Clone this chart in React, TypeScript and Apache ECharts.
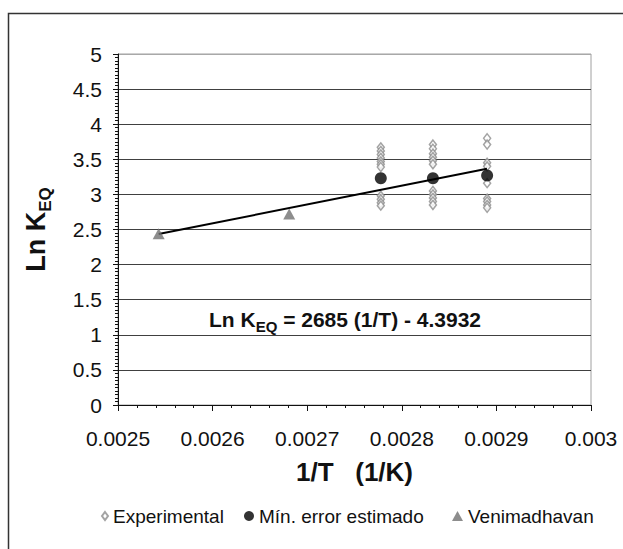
import React, { useEffect, useRef } from "react";
import * as echarts from "echarts";

// ---- data ----
const xTicksMin = 0.0025;
const xTicksMax = 0.003;
const xInterval = 0.0001;
const yMin = 0;
const yMax = 5;
const yInterval = 0.5;

const tempInv = [0.0027778, 0.0028329, 0.0028902];
const expCluster1 = [3.67, 3.62, 3.57, 3.52, 3.47, 3.43, 3.39, 2.98, 2.93, 2.88, 2.84];
const expCluster2 = [3.71, 3.65, 3.58, 3.53, 3.48, 3.43, 3.05, 3.0, 2.95, 2.9, 2.85];
const expCluster3 = [3.8, 3.71, 3.45, 3.4, 3.16, 2.94, 2.9, 2.85, 2.81];
const minErrorValues = [3.23, 3.23, 3.27];
const venimadhavanX = [0.002543, 0.002681];
const venimadhavanY = [2.44, 2.72];
const trendSlope = [2685];
const trendIntercept = [-4.3932];
const trendX = [0.002543, 0.00289];
const legendNames = ["Experimental", "Mín. error estimado", "Venimadhavan"];

const FONT = "'Liberation Sans', Arial, sans-serif";

export default function App() {
  const ref = useRef<HTMLDivElement>(null);
  useEffect(() => {
    if (!ref.current) return;
    const chart = echarts.init(ref.current, null, { renderer: "svg" });

    const expData: number[][] = [];
    [expCluster1, expCluster2, expCluster3].forEach((c, i) =>
      c.forEach((v) => expData.push([tempInv[i], v]))
    );
    const minData = tempInv.map((x, i) => [x, minErrorValues[i]]);
    const venData = venimadhavanX.map((x, i) => [x, venimadhavanY[i]]);
    const trendData = trendX.map((x) => [x, trendSlope[0] * x + trendIntercept[0]]);

    const splitColors: string[] = [];
    for (let i = 0; i < 10; i++) splitColors.push("#404040");
    splitColors.push("#a8a8a8");

    const legendText = { fontFamily: FONT, fontSize: 19, color: "#111", lineHeight: 20 };

    chart.setOption({
      animation: false,
      backgroundColor: "#fff",
      textStyle: { fontFamily: FONT },
      title: {
        text: "{a|Ln K}{b|EQ}{a| = 2685 (1/T) - 4.3932}",
        left: 209,
        top: 304,
        padding: 0,
        textStyle: {
          rich: {
            a: { fontFamily: FONT, fontSize: 21, fontWeight: "bold", color: "#111", lineHeight: 30 },
            b: { fontFamily: FONT, fontSize: 15, fontWeight: "bold", color: "#111", lineHeight: 15, verticalAlign: "bottom" },
          },
        },
      },
      graphic: [
        {
          type: "rect",
          silent: true,
          z: -10,
          shape: { x: 8.5, y: 13.5, width: 700, height: 700 },
          style: { fill: "none", stroke: "#333", lineWidth: 1.5 },
        },
      ],
      legend: [
        {
          data: [legendNames[0]],
          left: 101,
          top: 506,
          itemWidth: 6,
          itemHeight: 8,
          textStyle: legendText,
          padding: 0,
        },
        {
          data: [legendNames[1]],
          left: 244,
          top: 506,
          itemWidth: 10,
          itemHeight: 10,
          textStyle: legendText,
          padding: 0,
        },
        {
          data: [legendNames[2]],
          left: 452,
          top: 506,
          itemWidth: 11,
          itemHeight: 10,
          textStyle: legendText,
          padding: 0,
        },
      ],
      grid: {
        left: 118,
        right: 32,
        top: 54,
        bottom: 144,
        show: true,
        borderColor: "#a0a0a0",
        borderWidth: 1,
        backgroundColor: "#fff",
      },
      xAxis: {
        type: "value",
        min: xTicksMin,
        max: xTicksMax,
        interval: xInterval,
        name: "1/T   (1/K)",
        nameLocation: "middle",
        nameGap: 54,
        nameTextStyle: { fontFamily: FONT, fontSize: 26, fontWeight: "bold", color: "#111" },
        axisLine: { show: true, onZero: false, lineStyle: { color: "#111", width: 1 } },
        axisTick: { show: true, length: 6, lineStyle: { color: "#111" } },
        minorTick: { show: true, splitNumber: 5, length: 3, lineStyle: { color: "#111" } },
        splitLine: { show: false },
        axisLabel: {
          fontFamily: FONT,
          fontSize: 21,
          color: "#111",
          margin: 23,
          formatter: (v: number) => String(parseFloat(v.toFixed(4))),
        },
      },
      yAxis: {
        type: "value",
        min: yMin,
        max: yMax,
        interval: yInterval,
        name: "{a|Ln K}{b|EQ}",
        nameLocation: "middle",
        nameRotate: 90,
        nameGap: 64,
        nameTextStyle: {
          rich: {
            a: { fontFamily: FONT, fontSize: 27, fontWeight: "bold", color: "#111", lineHeight: 36 },
            b: { fontFamily: FONT, fontSize: 17, fontWeight: "bold", color: "#111", lineHeight: 17, verticalAlign: "bottom" },
          },
        },
        axisLine: { show: true, onZero: false, lineStyle: { color: "#111", width: 1 } },
        axisTick: { show: true, length: 5, lineStyle: { color: "#111" } },
        minorTick: { show: true, splitNumber: 10, length: 3, lineStyle: { color: "#111" } },
        splitLine: { show: true, lineStyle: { color: splitColors, width: 1 } },
        axisLabel: { fontFamily: FONT, fontSize: 21, color: "#111", margin: 16 },
      },
      series: [
        {
          name: legendNames[0],
          type: "scatter",
          symbol: "diamond",
          symbolSize: [7, 9],
          itemStyle: { color: "#fff", borderColor: "#8c8c8c", borderWidth: 1.5 },
          data: expData,
          z: 2,
        },
        {
          name: "Tendencia",
          type: "line",
          symbol: "none",
          lineStyle: { color: "#000", width: 2 },
          data: trendData,
          z: 3,
        },
        {
          name: legendNames[1],
          type: "scatter",
          symbol: "circle",
          symbolSize: 12,
          itemStyle: { color: "#000" },
          data: minData,
          z: 4,
        },
        {
          name: legendNames[2],
          type: "scatter",
          symbol: "triangle",
          symbolSize: [12, 11],
          itemStyle: { color: "#707070" },
          data: venData,
          z: 4,
        },
      ],
    });
    return () => chart.dispose();
  }, []);
  return (
    <div
      ref={ref}
      style={{ position: "fixed", left: 0, top: 0, width: 623, height: 549, background: "#fff" }}
    />
  );
}
